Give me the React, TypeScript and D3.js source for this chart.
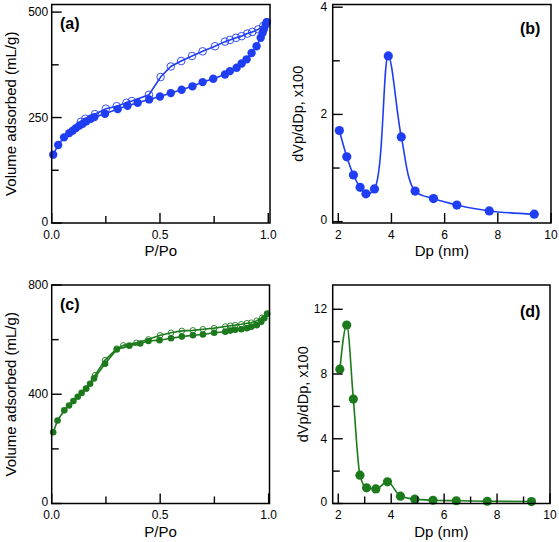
import React from 'react';
import * as d3 from 'd3';

const W = 559;
const H = 542;
const FONT = "'Liberation Sans', Arial, Helvetica, sans-serif";
const BLUE = '#1f3ef3';
const GREEN = '#1c7a1c';

// Panel (a): N2 isotherm, blue sample
const aAdsP = [0.007, 0.03, 0.057, 0.081, 0.097, 0.112, 0.128, 0.143, 0.16, 0.18, 0.197, 0.246, 0.305, 0.35, 0.397, 0.45, 0.5, 0.55, 0.6, 0.65, 0.697, 0.746, 0.8, 0.823, 0.854, 0.877, 0.9, 0.923, 0.946, 0.965, 0.974, 0.98, 0.989, 0.993];
const aAdsV = [162, 185, 203, 213, 219, 225, 231, 235, 241, 247, 251, 259, 270, 278, 285, 293, 300, 308, 316, 324, 334, 342, 352, 360, 368, 378, 388, 403, 419, 439, 451, 460, 471, 476];
const aDesP = [0.993, 0.977, 0.954, 0.926, 0.903, 0.877, 0.851, 0.823, 0.8, 0.754, 0.697, 0.648, 0.598, 0.55, 0.503, 0.449, 0.37, 0.345, 0.3, 0.25, 0.2, 0.155, 0.135];
const aDesV = [476, 467, 459, 453, 449, 443, 439, 434, 430, 419, 407, 396, 384, 371, 346, 304, 289, 285, 277, 271, 258, 247, 240];

// Panel (b): pore size distribution, blue sample
const bDp = [2.04, 2.32, 2.57, 2.82, 3.04, 3.36, 3.88, 4.37, 4.89, 5.58, 6.46, 7.68, 9.37];
const bVal = [1.7, 1.21, 0.87, 0.64, 0.52, 0.61, 3.09, 1.58, 0.57, 0.43, 0.31, 0.2, 0.14];

// Panel (c): N2 isotherm, green sample
const cAdsP = [0.007, 0.027, 0.058, 0.08, 0.1, 0.12, 0.138, 0.158, 0.177, 0.195, 0.246, 0.3, 0.358, 0.408, 0.446, 0.497, 0.55, 0.6, 0.651, 0.697, 0.749, 0.8, 0.823, 0.846, 0.874, 0.9, 0.92, 0.945, 0.966, 0.98, 0.993];
const cAdsV = [261, 304, 341, 359, 375, 391, 405, 421, 438, 458, 512, 564, 578, 586, 595, 598, 605, 611, 616, 619, 625, 629, 633, 636, 638, 642, 647, 653, 665, 678, 695];
const cDesP = [0.993, 0.97, 0.945, 0.92, 0.9, 0.874, 0.846, 0.823, 0.8, 0.749, 0.697, 0.651, 0.6, 0.55, 0.5, 0.446, 0.39, 0.33, 0.3, 0.246, 0.2, 0.16];
const cDesV = [695, 680, 669, 662, 660, 656, 653, 651, 648, 642, 638, 634, 632, 625, 616, 601, 588, 579, 567, 525, 470, 420];

// Panel (d): pore size distribution, green sample
const dDp = [2.06, 2.32, 2.57, 2.82, 3.07, 3.42, 3.86, 4.35, 4.89, 5.58, 6.46, 7.63, 9.3];
const dVal = [8.3, 11.03, 6.45, 1.75, 0.97, 0.9, 1.34, 0.45, 0.27, 0.2, 0.17, 0.14, 0.12];

// Axis ticks
const isoXMajor = [0, 0.5, 1.0];
const isoXMinor = [0.25, 0.75];
const aYMajor = [0, 250, 500];
const aYMinor = [125, 375];
const cYMajor = [0, 400, 800];
const cYMinor = [200, 600];
const psdXMajor = [2, 4, 6, 8, 10];
const bXMinor: number[] = [];
const dXMinor = [3, 5, 7, 9];
const bYMajor = [0, 2, 4];
const bYMinor = [1, 3];
const dYMajor = [0, 4, 8, 12];
const dYMinor = [2, 6, 10];

type Series = { x: number[]; y: number[]; open: boolean };

type PanelProps = {
  left: number; right: number; top: number; bottom: number;
  xDomain: [number, number]; yDomain: [number, number];
  xMajor: number[]; xMinor: number[]; yMajor: number[]; yMinor: number[];
  xFmt: (v: number) => string;
  xTitle: string; yTitle: string; yTitleX: number; yTitleSize: number;
  tag: string; tagX: number; tagY: number;
  series: Series[]; color: string; r: number; rOpen: number;
  curve: d3.CurveFactory; smooth: boolean; yLabelGap: number;
};

function Panel(p: PanelProps) {
  const x = d3.scaleLinear().domain(p.xDomain).range([p.left, p.right]);
  const y = d3.scaleLinear().domain(p.yDomain).range([p.bottom, p.top]);
  const line = d3.line<[number, number]>()
    .x(d => x(d[0]))
    .y(d => y(d[1]))
    .curve(p.curve);
  const MAJ = 10;
  const MIN = 7;
  const inX = (v: number) => v >= p.xDomain[0] - 1e-9 && v <= p.xDomain[1] + 1e-9;
  return (
    <g>
      {p.series.map((s, i) => {
        const pts: [number, number][] = s.x.map((v, j) => [v, s.y[j]]);
        const sorted = p.smooth ? pts.slice().sort((a, b) => a[0] - b[0]) : pts;
        return (
          <g key={i}>
            <path d={line(sorted) || ''} fill="none" stroke={p.color} strokeWidth={1.6} />
            {pts.map((d, j) => (
              <circle key={j} cx={x(d[0])} cy={y(d[1])} r={s.open ? p.rOpen : p.r}
                fill={s.open ? 'white' : p.color} fillOpacity={s.open ? 0 : 1}
                stroke={p.color} strokeWidth={s.open ? 0.9 : 0} />
            ))}
          </g>
        );
      })}
      <rect x={p.left} y={p.top} width={p.right - p.left} height={p.bottom - p.top}
        fill="none" stroke="black" strokeWidth={1.5} />
      {p.xMajor.filter(inX).map(v => (
        <g key={'xM' + v}>
          <line x1={x(v)} x2={x(v)} y1={p.bottom} y2={p.bottom - MAJ} stroke="black" strokeWidth={1.4} />
          <text x={x(v)} y={p.bottom + 15.5} textAnchor="middle" fontSize={12} fontFamily={FONT}>{p.xFmt(v)}</text>
        </g>
      ))}
      {p.xMinor.map(v => (
        <line key={'xm' + v} x1={x(v)} x2={x(v)} y1={p.bottom} y2={p.bottom - MIN} stroke="black" strokeWidth={1.4} />
      ))}
      {p.yMajor.map(v => (
        <g key={'yM' + v}>
          <line x1={p.left} x2={p.left + MAJ} y1={y(v)} y2={y(v)} stroke="black" strokeWidth={1.4} />
          <text x={p.left - p.yLabelGap} y={y(v) + (v === p.yMajor[0] ? 2.5 : 4)} textAnchor="end" fontSize={12} fontFamily={FONT}>{String(v)}</text>
        </g>
      ))}
      {p.yMinor.map(v => (
        <line key={'ym' + v} x1={p.left} x2={p.left + MIN} y1={y(v)} y2={y(v)} stroke="black" strokeWidth={1.4} />
      ))}
      <text x={(p.left + p.right) / 2} y={p.bottom + 33} textAnchor="middle" fontSize={15} fontFamily={FONT}>{p.xTitle}</text>
      <text transform={`translate(${p.yTitleX},${(p.top + p.bottom) / 2}) rotate(-90)`} textAnchor="middle"
        fontSize={p.yTitleSize} fontFamily={FONT}>{p.yTitle}</text>
      <text x={p.tagX} y={p.tagY} fontSize={16} fontWeight="bold" fontFamily={FONT}>{p.tag}</text>
    </g>
  );
}

const f1 = d3.format('.1f');
const f0 = (v: number) => String(v);

export default function App() {
  return (
    <svg width={W} height={H} style={{ position: 'absolute', left: 0, top: 0, background: 'white' }}>
      <Panel left={51.7} right={270} top={4.5} bottom={223}
        xDomain={[0, 1.008]} yDomain={[0, 518]}
        xMajor={isoXMajor} xMinor={isoXMinor} yMajor={aYMajor} yMinor={aYMinor}
        xFmt={f1} xTitle="P/Po" yTitle="Volume adsorbed (mL/g)" yTitleX={15.5} yTitleSize={15}
        tag="(a)" tagX={60} tagY={29}
        series={[{ x: aDesP, y: aDesV, open: true }, { x: aAdsP, y: aAdsV, open: false }]}
        color={BLUE} r={4.2} rOpen={3.8} curve={d3.curveLinear} smooth={false} yLabelGap={3.5} />
      <Panel left={332.7} right={551} top={4.5} bottom={223}
        xDomain={[1.79, 10]} yDomain={[-0.025, 4.05]}
        xMajor={psdXMajor} xMinor={bXMinor} yMajor={bYMajor} yMinor={bYMinor}
        xFmt={f0} xTitle="Dp (nm)" yTitle="dVp/dDp, x100" yTitleX={303} yTitleSize={14.5}
        tag="(b)" tagX={520} tagY={33.5}
        series={[{ x: bDp, y: bVal, open: false }]}
        color={BLUE} r={4.6} rOpen={4} curve={d3.curveCatmullRom.alpha(0.5)} smooth={true} yLabelGap={5.5} />
      <Panel left={51.7} right={269.5} top={285} bottom={503.5}
        xDomain={[0, 1.004]} yDomain={[0, 800]}
        xMajor={isoXMajor} xMinor={isoXMinor} yMajor={cYMajor} yMinor={cYMinor}
        xFmt={f1} xTitle="P/Po" yTitle="Volume adsorbed (mL/g)" yTitleX={15.5} yTitleSize={15}
        tag="(c)" tagX={60} tagY={310}
        series={[{ x: cDesP, y: cDesV, open: true }, { x: cAdsP, y: cAdsV, open: false }]}
        color={GREEN} r={3.3} rOpen={2.8} curve={d3.curveLinear} smooth={false} yLabelGap={3.5} />
      <Panel left={332.7} right={550} top={285} bottom={503.5}
        xDomain={[1.79, 10]} yDomain={[0, 13.5]}
        xMajor={psdXMajor} xMinor={dXMinor} yMajor={dYMajor} yMinor={dYMinor}
        xFmt={f0} xTitle="Dp (nm)" yTitle="dVp/dDp, x100" yTitleX={308} yTitleSize={14.5}
        tag="(d)" tagX={520} tagY={317}
        series={[{ x: dDp, y: dVal, open: false }]}
        color={GREEN} r={4.6} rOpen={4} curve={d3.curveMonotoneX} smooth={true} yLabelGap={5.5} />
    </svg>
  );
}
